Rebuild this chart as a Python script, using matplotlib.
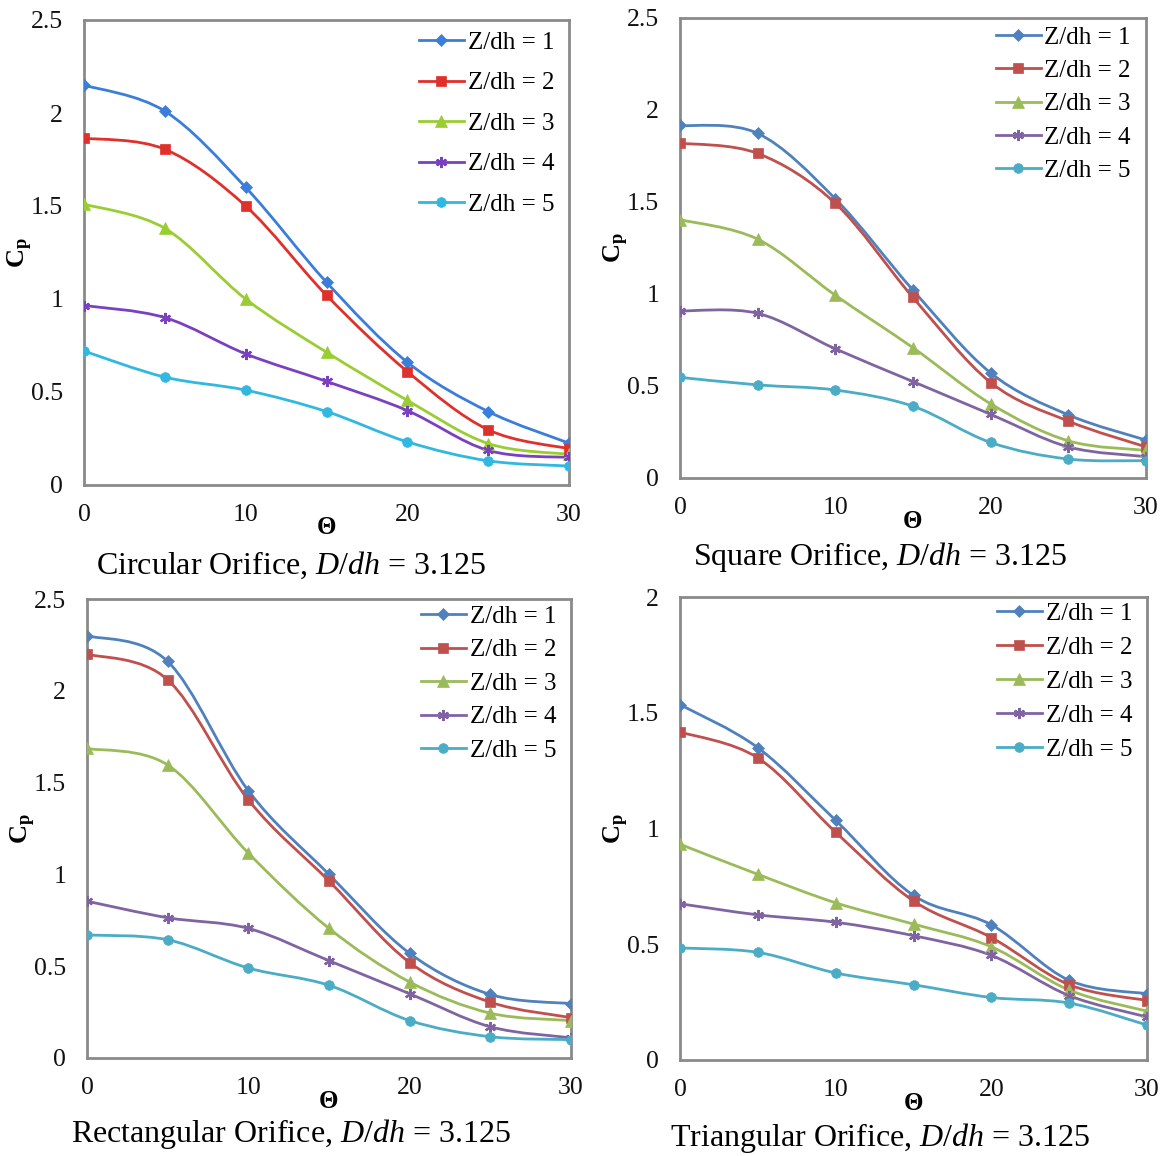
import matplotlib
matplotlib.use("Agg")
import matplotlib.pyplot as plt
from matplotlib.path import Path
from matplotlib.patches import PathPatch
from matplotlib.lines import Line2D
import numpy as np

plt.rcParams['font.family'] = ['Liberation Serif', 'DejaVu Serif']
plt.rcParams['mathtext.fontset'] = 'custom'
plt.rcParams['mathtext.rm'] = 'Liberation Serif'
plt.rcParams['mathtext.it'] = 'Liberation Serif:italic'
plt.rcParams['mathtext.bf'] = 'Liberation Serif:bold'

theta = [0, 5, 10, 15, 20, 25, 30]
series_labels = ["Z/dh = 1", "Z/dh = 2", "Z/dh = 3", "Z/dh = 4", "Z/dh = 5"]

circular = [
    [2.15, 2.01, 1.60, 1.09, 0.66, 0.395, 0.225],
    [1.865, 1.805, 1.50, 1.02, 0.61, 0.297, 0.195],
    [1.51, 1.38, 1.00, 0.714, 0.455, 0.223, 0.165],
    [0.965, 0.90, 0.705, 0.557, 0.40, 0.186, 0.148],
    [0.72, 0.58, 0.51, 0.395, 0.232, 0.13, 0.102],
]
square = [
    [1.916, 1.873, 1.517, 1.021, 0.571, 0.343, 0.206],
    [1.82, 1.764, 1.493, 0.981, 0.519, 0.309, 0.169],
    [1.404, 1.298, 0.993, 0.708, 0.403, 0.202, 0.15],
    [0.908, 0.895, 0.702, 0.524, 0.346, 0.169, 0.116],
    [0.547, 0.506, 0.478, 0.39, 0.193, 0.103, 0.094],
]
rectangular = [
    [2.30, 2.16, 1.456, 1.00, 0.57, 0.346, 0.296],
    [2.20, 2.06, 1.406, 0.964, 0.52, 0.304, 0.22],
    [1.686, 1.596, 1.116, 0.706, 0.414, 0.244, 0.204],
    [0.854, 0.764, 0.706, 0.53, 0.35, 0.17, 0.11],
    [0.67, 0.644, 0.49, 0.396, 0.204, 0.116, 0.10],
]
triangular = [
    [1.535, 1.349, 1.035, 0.711, 0.584, 0.344, 0.286],
    [1.417, 1.305, 0.984, 0.687, 0.529, 0.325, 0.257],
    [0.932, 0.802, 0.679, 0.587, 0.489, 0.302, 0.211],
    [0.675, 0.627, 0.595, 0.537, 0.452, 0.278, 0.186],
    [0.484, 0.465, 0.376, 0.325, 0.27, 0.246, 0.151],
]

colors_bright = ['#3A7DDA', '#E0302C', '#9ACD32', '#7A40C0', '#30B8E0']
colors_office = ['#4F81BD', '#C0504D', '#9BBB59', '#8064A2', '#4BACC6']
markers = ['D', 's', '^', (6, 2, 0), 'o']
msizes = [6.5, 6.5, 8, 8, 7]

panels = [
    dict(data=circular, colors=colors_bright, ymax=2.5,
         rect=[84, 20, 569, 485], title="Circular Orifice, $\\mathit{D/dh}$ = 3.125",
         tpos=(291, 565), lspace=40.5, lfirst=40),
    dict(data=square, colors=colors_office, ymax=2.5,
         rect=[680, 18, 1146, 478], title="Square Orifice, $\\mathit{D/dh}$ = 3.125",
         tpos=(880, 557), lspace=33.3, lfirst=35),
    dict(data=rectangular, colors=colors_office, ymax=2.5,
         rect=[87, 599, 571, 1058], title="Rectangular Orifice, $\\mathit{D/dh}$ = 3.125",
         tpos=(291, 1134), lspace=33.5, lfirst=614),
    dict(data=triangular, colors=colors_office, ymax=2.0,
         rect=[680, 597, 1147, 1060], title="Triangular Orifice, $\\mathit{D/dh}$ = 3.125",
         tpos=(880, 1138), lspace=34, lfirst=611),
]

W, H = 1164, 1156
fig = plt.figure(figsize=(W / 100, H / 100), dpi=100)


def smooth_path(xs, ys):
    pts = np.column_stack([xs, ys]).astype(float)
    n = len(pts)
    verts = [pts[0]]
    codes = [Path.MOVETO]
    for i in range(n - 1):
        p0 = pts[i - 1] if i > 0 else pts[i]
        p1 = pts[i]
        p2 = pts[i + 1]
        p3 = pts[i + 2] if i + 2 < n else pts[i + 1]
        c1 = p1 + (p2 - p0) / 6.0
        c2 = p2 - (p3 - p1) / 6.0
        verts += [c1, c2, p2]
        codes += [Path.CURVE4] * 3
    return Path(verts, codes)


for p in panels:
    x0, y0, x1, y1 = p['rect']
    ax = fig.add_axes([x0 / W, 1 - y1 / H, (x1 - x0) / W, (y1 - y0) / H])
    handles = []
    for k, ys in enumerate(p['data']):
        c = p['colors'][k]
        patch = PathPatch(smooth_path(theta, ys), fill=False, edgecolor=c, lw=2.0, zorder=2)
        ax.add_patch(patch)
        mk = markers[k]
        mew = 1.6 if k == 3 else 0.5
        ax.plot(theta, ys, linestyle='none', marker=mk, markersize=msizes[k],
                color=c, markeredgecolor=c, markeredgewidth=mew, zorder=3)
        handles.append(Line2D([0], [0], color=c, lw=2.0, marker=mk,
                              markersize=msizes[k], markeredgecolor=c, markeredgewidth=mew))
    ax.set_xlim(0, 30)
    ax.set_ylim(0, p['ymax'])
    ax.set_xticks([0, 10, 20, 30])
    ax.set_yticks(np.arange(0, p['ymax'] + 0.01, 0.5))
    ax.set_yticklabels([("%g" % v) for v in np.arange(0, p['ymax'] + 0.01, 0.5)])
    ax.tick_params(length=0, labelsize=18.5, colors='#111111')
    ax.tick_params(axis='x', pad=14)
    ax.tick_params(axis='y', pad=15)
    for s in ax.spines.values():
        s.set_color('#8a8a8a')
        s.set_linewidth(2.0)
    fs = 18
    fpx = fs * 100 / 72
    h = (y1 - y0)
    ls = (p['lspace'] - fpx * 0.9) / fpx
    top_off = (p['lfirst'] - y0) - 0.55 * fpx + 5
    ax.legend(handles, series_labels, loc='upper right', frameon=False,
              fontsize=fs, handlelength=1.8, handletextpad=0.15,
              labelspacing=max(ls, 0.05), borderaxespad=0.0, borderpad=0.0,
              bbox_to_anchor=(1.0 - 15 / (x1 - x0), 1.0 - top_off / h))
    ax.text(0.5, -43 / h, "Θ", transform=ax.transAxes,
            ha='center', va='center', fontsize=18, fontweight='bold')
    ax.text(-64 / (x1 - x0), 0.5, r"$\mathbf{C}_{\mathbf{p}}$", transform=ax.transAxes,
            ha='center', va='center', fontsize=19, rotation=90)
    fig.text(p['tpos'][0] / W, 1 - p['tpos'][1] / H, p['title'], ha='center',
             va='center', fontsize=23)

fig.savefig("out.png", dpi=100)
